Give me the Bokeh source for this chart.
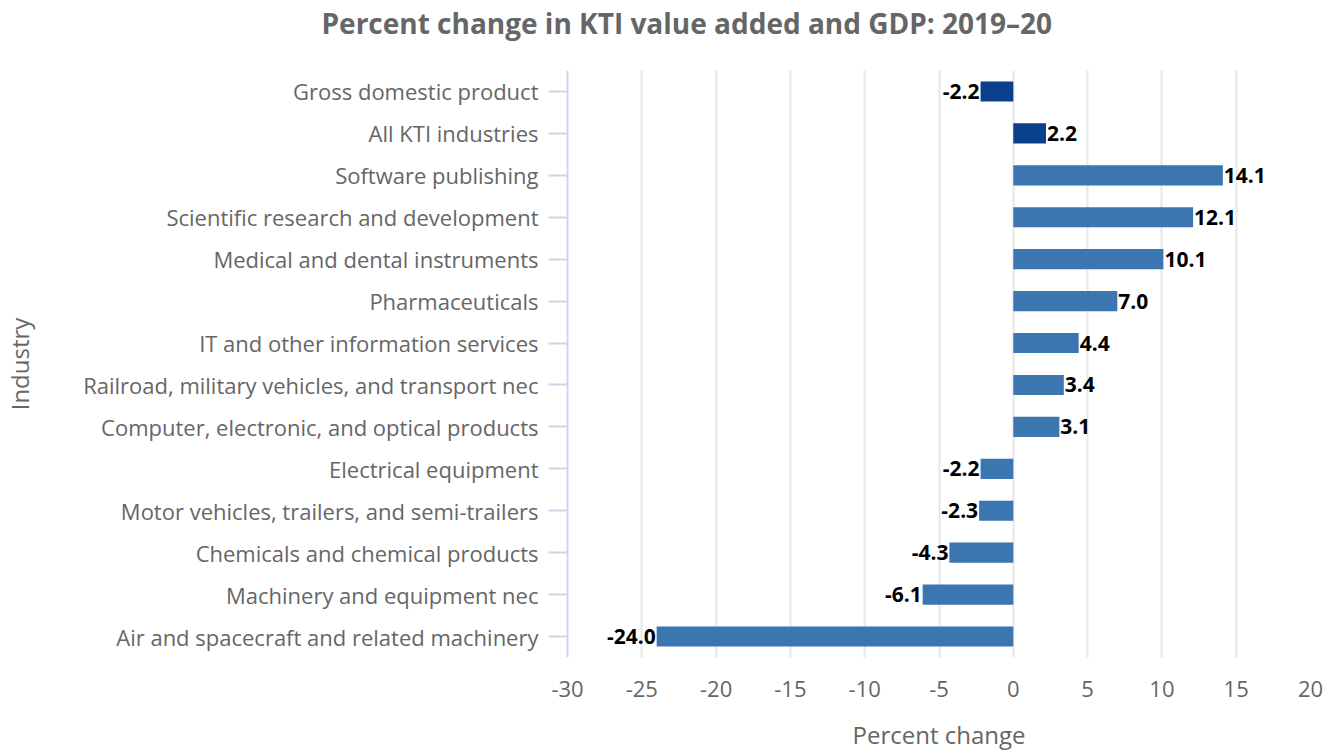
from bokeh.plotting import figure
from bokeh.models import ColumnDataSource, FactorRange, Range1d, FixedTicker, Title
from bokeh.core.properties import value
from bokeh.embed import file_html
from bokeh.resources import INLINE

title_text = "Percent change in KTI value added and GDP: 2019\u201320"
industries = [
    "Gross domestic product",
    "All KTI industries",
    "Software publishing",
    "Scientific research and development",
    "Medical and dental instruments",
    "Pharmaceuticals",
    "IT and other information services",
    "Railroad, military vehicles, and transport nec",
    "Computer, electronic, and optical products",
    "Electrical equipment",
    "Motor vehicles, trailers, and semi-trailers",
    "Chemicals and chemical products",
    "Machinery and equipment nec",
    "Air and spacecraft and related machinery",
]
pct_change = [-2.2, 2.2, 14.1, 12.1, 10.1, 7.0, 4.4, 3.4, 3.1, -2.2, -2.3, -4.3, -6.1, -24.0]
is_aggregate = [True, True] + [False] * 12
x_ticks = [-30, -25, -20, -15, -10, -5, 0, 5, 10, 15, 20]

DARK = "#0a3f8c"
MID = "#3b76b0"
FONT = "Open Sans"

colors = [DARK if a else MID for a in is_aggregate]
labels = [f"{v:.1f}" for v in pct_change]
pos = [v >= 0 for v in pct_change]

src_all = ColumnDataSource(dict(ind=industries, val=pct_change, color=colors))
src_pos = ColumnDataSource(dict(
    ind=[i for i, p in zip(industries, pos) if p],
    val=[v for v, p in zip(pct_change, pos) if p],
    lab=[l for l, p in zip(labels, pos) if p]))
src_neg = ColumnDataSource(dict(
    ind=[i for i, p in zip(industries, pos) if not p],
    val=[v for v, p in zip(pct_change, pos) if not p],
    lab=[l for l, p in zip(labels, pos) if not p]))

p = figure(width=1335, height=753, output_backend="svg", toolbar_location=None,
           y_range=FactorRange(factors=list(reversed(industries)), range_padding=0),
           x_range=Range1d(-30, 20),
           min_border_left=566, min_border_right=25, min_border_top=70, min_border_bottom=93)
p.outline_line_color = None
p.background_fill_color = "white"
p.border_fill_color = "white"

p.hbar(y="ind", right="val", left=0, height=0.48, color="color", source=src_all, line_color=None)

p.text(x="val", y="ind", text="lab", source=src_pos, x_offset=1,
       text_align="left", text_baseline="middle", text_font=value(FONT),
       text_font_style="bold", text_font_size="21px", text_color="#000000")
p.text(x="val", y="ind", text="lab", source=src_neg, x_offset=-1,
       text_align="right", text_baseline="middle", text_font=value(FONT),
       text_font_style="bold", text_font_size="21px", text_color="#000000")

# grid
p.ygrid.grid_line_color = None
p.xgrid.grid_line_color = "#e6e6e6"
p.xgrid.grid_line_width = 2
p.xaxis.ticker = FixedTicker(ticks=x_ticks)

# x axis
xa = p.xaxis[0]
xa.axis_line_color = None
xa.major_tick_line_color = None
xa.minor_tick_line_color = None
xa.major_label_overrides = {t: str(t) for t in x_ticks}
xa.major_label_text_font = FONT
xa.major_label_text_font_size = "22px"
xa.major_label_text_color = "#666666"
xa.major_label_standoff = 17
xa.axis_label = "Percent change"
xa.axis_label_text_font = FONT
xa.axis_label_text_font_size = "24px"
xa.axis_label_text_font_style = "normal"
xa.axis_label_text_color = "#666666"
xa.axis_label_standoff = 18

# y axis
ya = p.yaxis[0]
ya.axis_line_color = "#ccd6eb"
ya.axis_line_width = 2
ya.major_tick_line_color = "#ccd6eb"
ya.major_tick_line_width = 2
ya.major_tick_out = 19
ya.major_tick_in = 0
ya.minor_tick_line_color = None
ya.major_label_text_font = FONT
ya.major_label_text_font_size = "22px"
ya.major_label_text_color = "#666666"
ya.major_label_standoff = 10
ya.axis_label = "Industry"
ya.axis_label_text_font = FONT
ya.axis_label_text_font_size = "24px"
ya.axis_label_text_font_style = "normal"
ya.axis_label_text_color = "#666666"
ya.axis_label_standoff = 44

p.title = Title(text=title_text, align="left", offset=-246, vertical_align="top",
                standoff=2, text_font=FONT, text_font_size="28px",
                text_font_style="bold", text_color="#666666")
# spacer between the frame and the title
p.add_layout(Title(text=" ", text_font_size="18px", standoff=4), "above")

open("out.html", "w").write(file_html(p, INLINE))
